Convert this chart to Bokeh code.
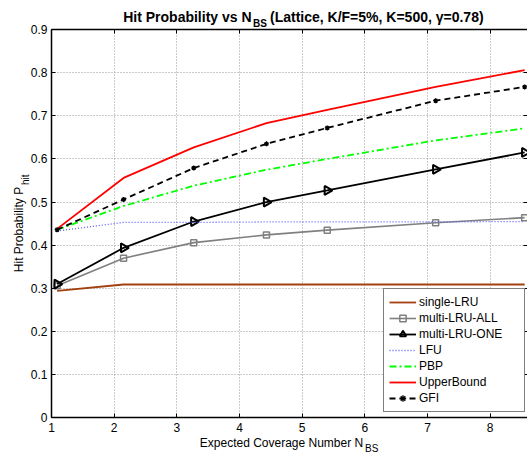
import numpy as np
from bokeh.plotting import figure
from bokeh.models import (Label, Legend, LegendItem, LinearAxis, FixedTicker,
                          CustomJSTickFormatter, Range1d, Grid)
from bokeh.embed import file_html
from bokeh.resources import INLINE

# ---------------- data ----------------
N_BS = [1.09, 2.15, 3.27, 4.43, 5.40, 7.13, 8.55]
single_lru = [0.294, 0.309, 0.309, 0.309, 0.309, 0.309, 0.309]
multi_lru_all = [0.306, 0.370, 0.406, 0.424, 0.435, 0.452, 0.464]
multi_lru_one = [0.310, 0.394, 0.455, 0.500, 0.527, 0.576, 0.615]
lfu = [0.433, 0.453, 0.453, 0.454, 0.454, 0.454, 0.455]
pbp = [0.436, 0.491, 0.538, 0.575, 0.600, 0.643, 0.671]
upper_bound = [0.438, 0.556, 0.627, 0.683, 0.714, 0.767, 0.806]
gfi = [0.436, 0.506, 0.579, 0.635, 0.672, 0.735, 0.767]

X_TICKS = [1, 2, 3, 4, 5, 6, 7, 8]
Y_TICKS = [0, 0.1, 0.2, 0.3, 0.4, 0.5, 0.6, 0.7, 0.8, 0.9]
Y_TICK_LABELS = ["0", "0.1", "0.2", "0.3", "0.4", "0.5", "0.6", "0.7", "0.8", "0.9"]

FONT = "Liberation Sans"
W, H = 527, 453

# axes box (data limits) and its place on the canvas
X_MIN, Y_MIN, Y_MAX = 1.0, 0.0, 0.9
PX_PER_X = 62.67
PX_PER_Y = 431.4
LEFT_PX, BOTTOM_PX = 51.0, 417.3
xs = X_MIN - LEFT_PX / PX_PER_X
xe = xs + W / PX_PER_X
ys = Y_MIN - (H - BOTTOM_PX) / PX_PER_Y
ye = ys + H / PX_PER_Y
X_MAX = xe

p = figure(width=W, height=H, output_backend="svg", toolbar_location=None,
           x_range=Range1d(xs, xe), y_range=Range1d(ys, ye),
           x_axis_type=None, y_axis_type=None,
           min_border_left=0, min_border_right=0, min_border_top=0,
           min_border_bottom=0)
p.background_fill_color = "white"
p.border_fill_color = "white"
p.outline_line_color = None

blank = CustomJSTickFormatter(code="return ''")


def style_axis(ax, labels=True, line=True):
    ax.major_tick_in = 4
    ax.major_tick_out = 0
    ax.minor_tick_in = 0
    ax.minor_tick_out = 0
    ax.axis_line_width = 1.5
    ax.axis_line_color = "black" if line else None
    ax.major_tick_line_color = "black"
    ax.major_tick_line_width = 1
    ax.major_label_text_font = FONT
    ax.major_label_text_font_size = "12px"
    ax.major_label_text_color = "black"
    if not labels:
        ax.formatter = blank


xaxis = LinearAxis(ticker=FixedTicker(ticks=X_TICKS), fixed_location=Y_MIN,
                   bounds=(X_MIN, X_MAX))
style_axis(xaxis)
xaxis.major_label_standoff = 5
p.add_layout(xaxis, "below")

yaxis = LinearAxis(ticker=FixedTicker(ticks=Y_TICKS), fixed_location=X_MIN,
                   bounds=(Y_MIN, Y_MAX))
style_axis(yaxis)
yaxis.major_label_overrides = {t: s for t, s in zip(Y_TICKS, Y_TICK_LABELS)}
yaxis.major_label_standoff = 4
p.add_layout(yaxis, "left")

topaxis = LinearAxis(ticker=FixedTicker(ticks=X_TICKS), fixed_location=Y_MAX,
                     bounds=(X_MIN, X_MAX))
style_axis(topaxis, labels=False)
topaxis.axis_line_width = 1.3
p.add_layout(topaxis, "above")

rightaxis = LinearAxis(ticker=FixedTicker(ticks=Y_TICKS), fixed_location=X_MAX,
                       bounds=(Y_MIN, Y_MAX))
style_axis(rightaxis, labels=False, line=False)
p.add_layout(rightaxis, "right")

# dotted grid lines, limited to the axes box
xgrid = Grid(dimension=0, ticker=FixedTicker(ticks=X_TICKS), bounds=(X_MIN, X_MAX))
ygrid = Grid(dimension=1, ticker=FixedTicker(ticks=Y_TICKS), bounds=(Y_MIN, Y_MAX))
use_cross = True
try:
    xgrid.cross_bounds = (Y_MIN, Y_MAX)
    ygrid.cross_bounds = (X_MIN, X_MAX)
except Exception:
    use_cross = False
if use_cross:
    for g in (xgrid, ygrid):
        g.grid_line_color = "#969696"
        g.grid_line_dash = "1 2"
        g.grid_line_width = 1
        p.add_layout(g)
else:
    gx = [t for t in X_TICKS if t > X_MIN]
    p.segment(x0=gx, y0=[Y_MIN] * len(gx), x1=gx, y1=[Y_MAX] * len(gx),
              line_color="#969696", line_dash="1 2", line_width=1)
    gy = [t for t in Y_TICKS if t > Y_MIN]
    p.segment(x0=[X_MIN] * len(gy), y0=gy, x1=[X_MAX] * len(gy), y1=gy,
              line_color="#969696", line_dash="1 2", line_width=1)

# ---------------- series ----------------
items = []
r = p.line(N_BS, single_lru, line_color="#a3400f", line_width=1.8)
items.append(LegendItem(label="single-LRU", renderers=[r]))

r1 = p.line(N_BS, multi_lru_all, line_color="#808080", line_width=1.6)
r2 = p.scatter(N_BS, multi_lru_all, marker="square", size=6, line_color="#808080",
               fill_color=None, line_width=1.5)
items.append(LegendItem(label="multi-LRU-ALL", renderers=[r1, r2]))

r1 = p.line(N_BS, multi_lru_one, line_color="black", line_width=1.8)
r2 = p.scatter(N_BS, multi_lru_one, marker="triangle", size=9, angle=-np.pi / 2,
               line_color="black", fill_color=None, line_width=2)
items.append(LegendItem(label="multi-LRU-ONE", renderers=[r1, r2]))

r = p.line(N_BS, lfu, line_color="#5a5aff", line_width=1.3, line_dash="1 2")
items.append(LegendItem(label="LFU", renderers=[r]))

r = p.line(N_BS, pbp, line_color="#00ff00", line_width=1.8, line_dash="7 3 2 3")
items.append(LegendItem(label="PBP", renderers=[r]))

r = p.line(N_BS, upper_bound, line_color="#ff0000", line_width=1.8)
items.append(LegendItem(label="UpperBound", renderers=[r]))

r1 = p.line(N_BS, gfi, line_color="black", line_width=1.8, line_dash="6 4")
r2 = p.scatter(N_BS, gfi, marker="asterisk", size=5, line_color="black", line_width=1.3)
items.append(LegendItem(label="GFI", renderers=[r1, r2]))

legend = Legend(items=items, location=(383, 41), margin=0, padding=5, spacing=0,
                glyph_width=27, glyph_height=16, label_height=16, label_width=100,
                label_standoff=3, label_text_font=FONT, label_text_font_size="12px",
                label_text_color="black", border_line_color="black",
                border_line_width=1, background_fill_color="white",
                background_fill_alpha=1.0)
p.add_layout(legend, "center")

# ---------------- texts (title, axis labels with subscripts) ----------------


def add_text(txt, px, py, size, bold=False, angle=0.0):
    p.add_layout(Label(x=xs + px / PX_PER_X, y=ye - py / PX_PER_Y, text=txt,
                       text_font=FONT, text_font_size=f"{size}px",
                       text_font_style="bold" if bold else "normal",
                       text_color="black", text_align="left",
                       text_baseline="alphabetic", angle=angle))


add_text("Hit Probability vs N", 122.7, 16, 14, bold=True)
add_text("BS", 252.5, 22.5, 10, bold=True)
add_text("(Lattice, K/F=5%, K=500, \u03b3=0.78)", 269.5, 16, 14, bold=True)

add_text("Expected Coverage Number N", 199.3, 442.6, 12)
add_text("BS", 364.5, 447.8, 10)

add_text("Hit Probability P", 18.5, 271.7, 12, angle=np.pi / 2)
add_text("hit", 24.5, 184.5, 10, angle=np.pi / 2)

open("out.html", "w").write(file_html(p, INLINE))
